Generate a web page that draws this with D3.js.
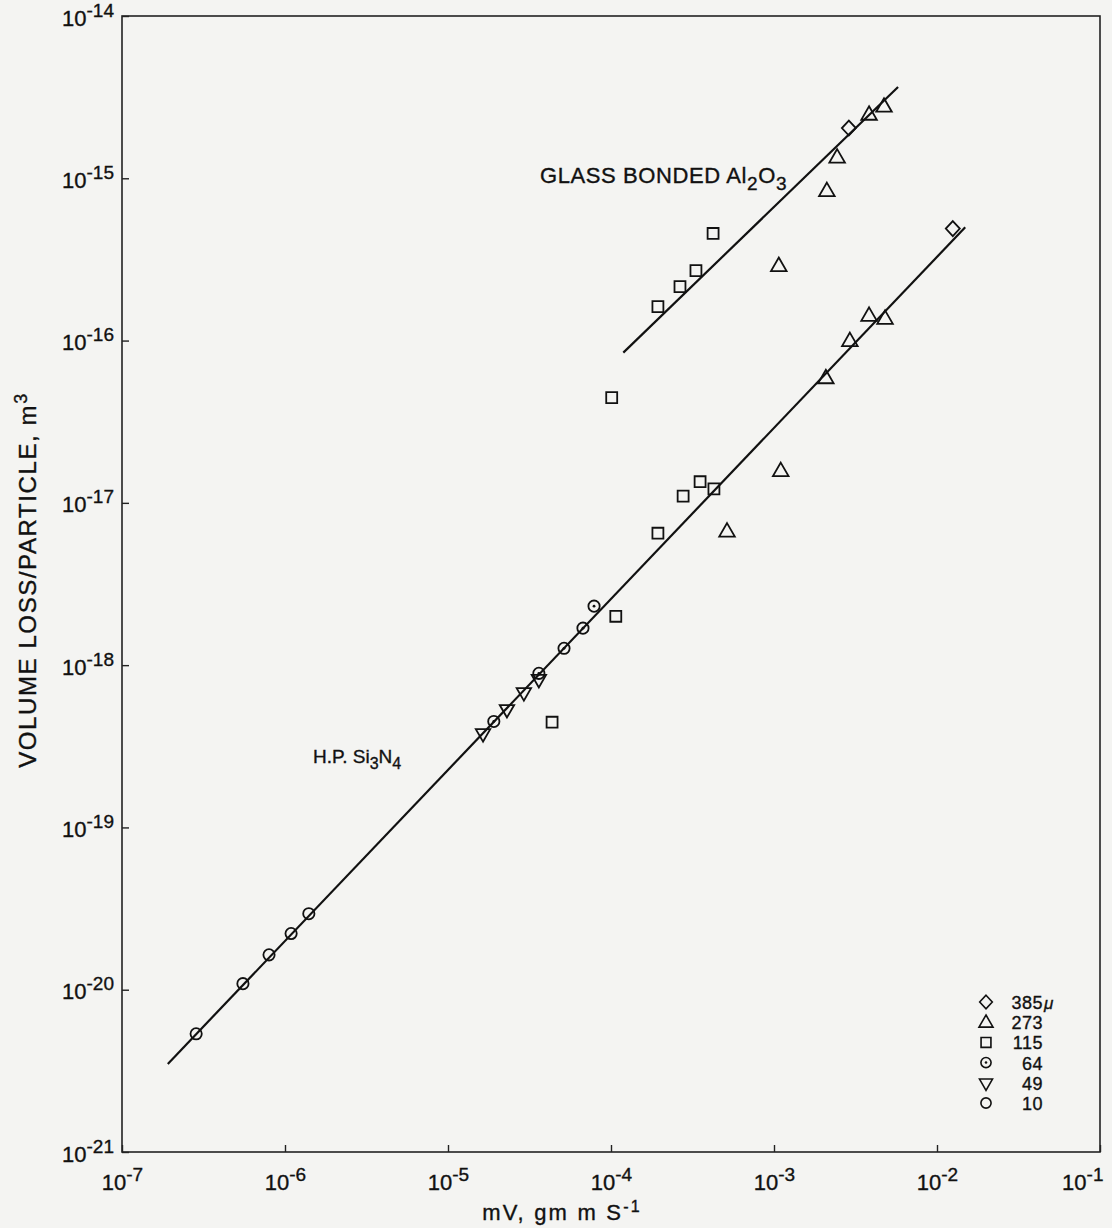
<!DOCTYPE html>
<html>
<head>
<meta charset="utf-8">
<script src="https://cdn.jsdelivr.net/npm/d3@7"></script>
<style>
  body { margin: 0; background: #f4f4f2; }
  svg { display: block; font-family: "Liberation Sans", Arial, sans-serif; }
  text { fill: #111; stroke: #111; stroke-width: 0.35px; }
</style>
</head>
<body>
<svg id="chart" width="1112" height="1228"></svg>
<script>
// tick exponents
var xExps = [-7, -6, -5, -4, -3, -2, -1];
var yExps = [-21, -20, -19, -18, -17, -16, -15, -14];

// particle size groups (microns) and their points [mV, volume loss]
var sizes = ["385", "273", "115", "64", "49", "10"];
var d385 = [[2.88e-3, 2.04e-15], [1.25e-2, 4.9e-16]];
var d273 = [[5.15e-4, 6.7e-18], [1.10e-3, 1.58e-17], [2.08e-3, 5.9e-17], [2.92e-3, 1.0e-16],
            [3.83e-3, 1.43e-16], [4.80e-3, 1.37e-16], [1.07e-3, 2.9e-16], [2.11e-3, 8.4e-16],
            [2.44e-3, 1.35e-15], [3.83e-3, 2.48e-15], [4.73e-3, 2.78e-15]];
var d115 = [[4.35e-5, 4.45e-19], [1.07e-4, 2.0e-18], [1.94e-4, 6.5e-18], [2.77e-4, 1.10e-17],
            [3.52e-4, 1.35e-17], [4.28e-4, 1.22e-17], [1.01e-4, 4.45e-17], [1.94e-4, 1.62e-16],
            [2.65e-4, 2.15e-16], [3.32e-4, 2.70e-16], [4.23e-4, 4.57e-16]];
var d64 = [[1.91e-5, 4.5e-19], [3.61e-5, 8.9e-19], [5.15e-5, 1.27e-18], [6.73e-5, 1.69e-18],
           [7.87e-5, 2.31e-18]];
var d49 = [[1.64e-5, 3.8e-19], [2.30e-5, 5.35e-19], [2.92e-5, 6.8e-19], [3.61e-5, 8.2e-19]];
var d10 = [[2.85e-7, 5.35e-21], [5.52e-7, 1.09e-20], [7.98e-7, 1.64e-20], [1.09e-6, 2.22e-20],
           [1.40e-6, 2.94e-20]];

// fitted lines
var lineSi3N4 = [[1.91e-7, 3.49e-21], [1.49e-2, 4.99e-16]];
var lineAl2O3 = [[1.19e-4, 8.43e-17], [5.77e-3, 3.65e-15]];

var svg = d3.select("#chart");

var x = d3.scaleLog().domain([1e-7, 1e-1]).range([122, 1100]);
var y = d3.scaleLog().domain([1e-21, 1e-14]).range([1152, 16]);

// frame
svg.append("rect")
    .attr("x", x.range()[0]).attr("y", y.range()[1])
    .attr("width", x.range()[1] - x.range()[0])
    .attr("height", y.range()[0] - y.range()[1])
    .attr("fill", "none").attr("stroke", "#222").attr("stroke-width", 1.6);

// axes: inward ticks, labels as 10 with superscript exponent
var xAxis = svg.append("g")
    .attr("transform", "translate(0," + y.range()[0] + ")")
    .call(d3.axisBottom(x).tickValues(xExps.map(function(e) { return Math.pow(10, e); }))
          .tickSize(-7).tickPadding(28).tickFormat(""));
var yAxis = svg.append("g")
    .attr("transform", "translate(" + x.range()[0] + ",0)")
    .call(d3.axisLeft(y).tickValues(yExps.map(function(e) { return Math.pow(10, e); }))
          .tickSize(-7).tickPadding(10).tickFormat(""));

[xAxis, yAxis].forEach(function(a) {
  a.select(".domain").remove();
  a.selectAll(".tick line").attr("stroke", "#222").attr("stroke-width", 1.4);
});

function powLabel(sel) {
  sel.each(function(d) {
    var t = d3.select(this);
    var e = Math.round(Math.log10(d));
    t.attr("font-size", 22).attr("fill", "#111")
      .attr("font-family", "'Liberation Sans', Arial, sans-serif");
    t.append("tspan").text("10");
    t.append("tspan").attr("dy", -9).attr("font-size", 19).text(e);
  });
}
xAxis.selectAll(".tick text").call(powLabel).attr("dy", 10)
    .filter(function(d, i) { return i === xExps.length - 1; })
    .attr("text-anchor", "end").attr("x", 3);
yAxis.selectAll(".tick text").call(powLabel).attr("dy", 9).attr("x", -8);

// axis titles
svg.append("text")
    .attr("x", 562).attr("y", 1220)
    .attr("text-anchor", "middle").attr("font-size", 22).attr("letter-spacing", 2.2)
    .call(function(t) {
      t.append("tspan").text("mV, gm m  S");
      t.append("tspan").attr("dy", -8).attr("font-size", 16).text("-1");
    });

svg.append("text")
    .attr("transform", "translate(36,580) rotate(-90)")
    .attr("text-anchor", "middle").attr("font-size", 24).attr("letter-spacing", 1.6)
    .call(function(t) {
      t.append("tspan").text("VOLUME LOSS/PARTICLE,  m");
      t.append("tspan").attr("dy", -9).attr("font-size", 18).text("3");
    });

// fitted lines
var line = d3.line().x(function(d) { return x(d[0]); }).y(function(d) { return y(d[1]); });
[lineSi3N4, lineAl2O3].forEach(function(l) {
  svg.append("path").attr("d", line(l))
      .attr("fill", "none").attr("stroke", "#111").attr("stroke-width", 2.2);
});

// line labels
svg.append("text").attr("x", 540).attr("y", 183).attr("font-size", 22).attr("letter-spacing", 0.6)
    .call(function(t) {
      t.append("tspan").text("GLASS BONDED Al");
      t.append("tspan").attr("dy", 7).attr("font-size", 19).text("2");
      t.append("tspan").attr("dy", -7).text("O");
      t.append("tspan").attr("dy", 7).attr("font-size", 19).text("3");
    });
svg.append("text").attr("x", 313).attr("y", 763).attr("font-size", 19)
    .call(function(t) {
      t.append("tspan").text("H.P. Si");
      t.append("tspan").attr("dy", 6).attr("font-size", 16).text("3");
      t.append("tspan").attr("dy", -6).text("N");
      t.append("tspan").attr("dy", 6).attr("font-size", 16).text("4");
    });

// marker shapes
var diamond = function() { return "M0,-7.5L7,0L0,7.5L-7,0Z"; };
var shapes = {
  "385": diamond,
  "273": d3.symbol().type(d3.symbolTriangle).size(105),
  "115": d3.symbol().type(d3.symbolSquare).size(120),
  "64": d3.symbol().type(d3.symbolCircle).size(100),
  "49": d3.symbol().type(d3.symbolTriangle).size(90),
  "10": d3.symbol().type(d3.symbolCircle).size(100)
};
var groups = {"385": d385, "273": d273, "115": d115, "64": d64, "49": d49, "10": d10};

function drawMarker(g, s, cx, cy, k) {
  var m = g.append("g").attr("transform", "translate(" + cx + "," + cy + ") scale(" + (k || 1) + ")");
  m.append("path")
      .attr("d", shapes[s]())
      .attr("transform", s === "49" ? "rotate(180)" : s === "273" ? "translate(0,1)" : null)
      .attr("fill", "none").attr("stroke", "#111").attr("stroke-width", 1.8);
  if (s === "64") m.append("circle").attr("r", 1.4).attr("fill", "#111");
}

sizes.forEach(function(s) {
  var g = svg.append("g").attr("class", "pts s" + s);
  groups[s].forEach(function(d) { drawMarker(g, s, x(d[0]), y(d[1])); });
});

// legend
var legend = svg.append("g").attr("class", "legend");
sizes.forEach(function(s, i) {
  var ly = 1002 + i * 20.2;
  drawMarker(legend, s, 986, ly, 0.9);
  legend.append("text").attr("x", 1043).attr("y", ly + 7)
      .attr("text-anchor", "end").attr("font-size", 18).attr("letter-spacing", 0.5).text(s);
  if (s === "385") {
    legend.append("text").attr("x", 1044).attr("y", ly + 7)
        .attr("font-size", 17).attr("font-style", "italic").text("μ");
  }
});
</script>
</body>
</html>
